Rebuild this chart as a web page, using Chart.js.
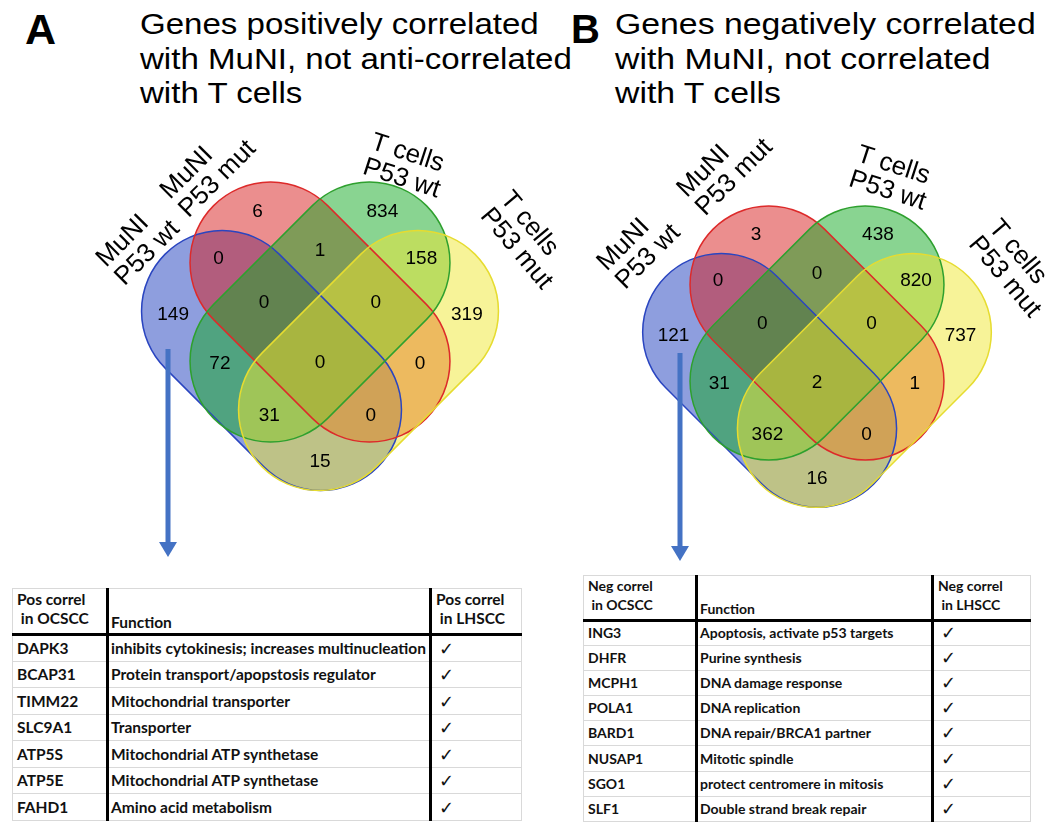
<!DOCTYPE html>
<html>
<head>
<meta charset="utf-8">
<title>MuNI / T cells Venn diagrams</title>
<script src="https://cdn.jsdelivr.net/npm/chart.js@4.4.1/dist/chart.umd.min.js"></script>
<style>
  html, body { margin: 0; padding: 0; background: #fff; }
  body { width: 1050px; height: 834px; position: relative; overflow: hidden;
         font-family: "Liberation Sans", Arial, sans-serif; color: #000; }
  .letter { position: absolute; font-weight: bold; line-height: 1; }
  .title { position: absolute; font-size: 29px; line-height: 34.5px; transform-origin: 0 0; white-space: nowrap; }
  .venn { position: absolute; top: 0; }
  table.genes { position: absolute; border-collapse: collapse; table-layout: fixed;
                font-family: Lato, "Open Sans", sans-serif; font-weight: bold; color: #111; }
  table.genes td { border: 1px solid #d9d9d9; padding: 0 0 3px 4px; vertical-align: bottom;
                   white-space: nowrap; overflow: hidden; line-height: 19px; }
  table.genes td.fn { padding-left: 2px; }
  table.genes td.sep { border-right: 3px solid #000; }
  table.genes tr.head td { border-bottom: 3px solid #000; padding-bottom: 5px; }
  table.genes tr.head td.fn { padding-bottom: 1px; }
  table.genes td.chk { font-family: "DejaVu Sans", sans-serif; font-weight: normal; font-size: 18px; padding-left: 7px; }
</style>
</head>
<body>
<div class="letter" style="left:25px; top:8px; font-size:43px;">A</div>
<div class="title" style="left:140px; top:7px; transform:scaleX(1.14);">Genes positively correlated<br>with MuNI, not anti-correlated<br>with T cells</div>
<div class="letter" style="left:571px; top:9px; font-size:40px;">B</div>
<div class="title" style="left:615px; top:7px; transform:scaleX(1.165);">Genes negatively correlated<br>with MuNI, not correlated<br>with T cells</div>

<canvas id="vennA" class="venn" width="570" height="580" style="left:0"></canvas>
<canvas id="vennB" class="venn" width="525" height="572" style="left:525px"></canvas>

<table id="tableA" class="genes" style="left:12px; top:588px; width:509px; font-size:15.5px;"></table>
<table id="tableB" class="genes" style="left:583px; top:575px; width:447px; font-size:14px;"></table>

<script>
// sets: A = MuNI P53 wt (blue), B = MuNI P53 mut (red), C = T cells P53 wt (green), D = T cells P53 mut (yellow)
const setLabels = [['MuNI', 'P53 wt'], ['MuNI', 'P53 mut'], ['T cells', 'P53 wt'], ['T cells', 'P53 mut']];
const regions = ['A', 'B', 'C', 'D', 'AB', 'BC', 'CD', 'AC', 'AD', 'BD', 'ABC', 'BCD', 'ACD', 'ABD', 'ABCD'];
const countsPos = [149, 6, 834, 319, 0, 1, 158, 72, 15, 0, 0, 0, 31, 0, 0];
const countsNeg = [121, 3, 438, 737, 0, 0, 820, 31, 16, 1, 0, 0, 362, 0, 2];

// tables
const headPos = [['Pos correl', '\u00a0in OCSCC'], ['Function'], ['Pos correl', '\u00a0in LHSCC']];
const genesPos = ['DAPK3', 'BCAP31', 'TIMM22', 'SLC9A1', 'ATP5S', 'ATP5E', 'FAHD1'];
const funcsPos = ['inhibits cytokinesis; increases multinucleation', 'Protein transport/apopstosis regulator',
                  'Mitochondrial transporter', 'Transporter', 'Mitochondrial ATP synthetase',
                  'Mitochondrial ATP synthetase', 'Amino acid metabolism'];
const lhsccPos = [true, true, true, true, true, true, true];

const headNeg = [['Neg correl', '\u00a0in OCSCC'], ['Function'], ['Neg correl', '\u00a0in LHSCC']];
const genesNeg = ['ING3', 'DHFR', 'MCPH1', 'POLA1', 'BARD1', 'NUSAP1', 'SGO1', 'SLF1'];
const funcsNeg = ['Apoptosis, activate p53 targets', 'Purine synthesis', 'DNA damage response', 'DNA replication',
                  'DNA repair/BRCA1 partner', 'Mitotic spindle', 'protect centromere in mitosis',
                  'Double strand break repair'];
const lhsccNeg = [true, true, true, true, true, true, true, true];

// venn geometry, in units of the shape half-extent (layout only)
const regionAnchors = [[-1.13, -0.02], [-0.48, 0.77], [0.48, 0.77], [1.13, -0.02],
                       [-0.78, 0.41], [0, 0.47], [0.78, 0.41], [-0.77, -0.40], [0, -1.15], [0.77, -0.40],
                       [-0.43, 0.07], [0.43, 0.07], [-0.39, -0.80], [0.39, -0.80], [0, -0.39]];
const shapes = [
  { cx: -0.373, cy: -0.373, rot: 45,  fill: 'rgba(30,62,190,0.5)',  stroke: '#2a45c0' },
  { cx: 0,      cy: 0,      rot: 45,  fill: 'rgba(215,30,30,0.5)',  stroke: '#dd2a2a' },
  { cx: 0,      cy: 0,      rot: -45, fill: 'rgba(20,170,35,0.5)',  stroke: '#2ea02e' },
  { cx: 0.373,  cy: -0.373, rot: -45, fill: 'rgba(240,232,50,0.5)', stroke: '#e6dc30' }
];
const capRadius = 0.62, halfStraight = 0.537;

function stadiumPath(ctx, px, py, rot, L, r) {
  ctx.save();
  ctx.translate(px, py);
  ctx.rotate(rot * Math.PI / 180);
  ctx.beginPath();
  ctx.moveTo(-L, -r);
  ctx.lineTo(L, -r);
  ctx.arc(L, 0, r, -Math.PI / 2, Math.PI / 2);
  ctx.lineTo(-L, r);
  ctx.arc(-L, 0, r, Math.PI / 2, Math.PI * 1.5);
  ctx.closePath();
  ctx.restore();
}

function vennPlugin(layout) {
  return {
    id: 'venn',
    beforeDatasetsDraw(chart) {
      const { ctx, scales: { x, y } } = chart;
      const unit = x.getPixelForValue(1) - x.getPixelForValue(0);
      ctx.save();
      shapes.forEach(s => {
        stadiumPath(ctx, x.getPixelForValue(s.cx), y.getPixelForValue(s.cy), s.rot, halfStraight * unit, capRadius * unit);
        ctx.fillStyle = s.fill;
        ctx.fill();
      });
      shapes.forEach(s => {
        stadiumPath(ctx, x.getPixelForValue(s.cx), y.getPixelForValue(s.cy), s.rot, halfStraight * unit, capRadius * unit);
        ctx.strokeStyle = s.stroke;
        ctx.lineWidth = 1.5;
        ctx.stroke();
      });
      ctx.restore();
    },
    afterDatasetsDraw(chart) {
      const { ctx, scales: { x, y } } = chart;
      const ds = chart.data.datasets[0];
      const meta = chart.getDatasetMeta(0);
      ctx.save();
      // region counts
      ctx.fillStyle = '#000';
      ctx.font = '19px "Liberation Sans", Arial, sans-serif';
      ctx.textAlign = 'center';
      ctx.textBaseline = 'middle';
      meta.data.forEach((pt, i) => ctx.fillText(String(ds.data[i].count), pt.x, pt.y));
      // set names, rotated
      ctx.font = '26px "Liberation Sans", Arial, sans-serif';
      ctx.textAlign = 'left';
      layout.labels.forEach((l, i) => {
        ctx.save();
        ctx.translate(x.getPixelForValue(l[0]), y.getPixelForValue(l[1]));
        ctx.rotate(l[2] * Math.PI / 180);
        setLabels[i].forEach((line, j) => ctx.fillText(line, 0, j * 26));
        ctx.restore();
      });
      // arrow down to the table
      const a = layout.arrow;
      ctx.fillStyle = '#4472c4';
      ctx.fillRect(a.x - 2.5, a.y0, 5, a.tip - 15 - a.y0 + 1);
      ctx.beginPath();
      ctx.moveTo(a.x - 9, a.tip - 15);
      ctx.lineTo(a.x + 9, a.tip - 15);
      ctx.lineTo(a.x, a.tip);
      ctx.closePath();
      ctx.fill();
      ctx.restore();
    }
  };
}

function vennChart(id, counts, layout) {
  const canvas = document.getElementById(id);
  const W = canvas.width, H = canvas.height, u = layout.unit;
  return new Chart(canvas, {
    type: 'scatter',
    data: {
      datasets: [{
        label: 'genes',
        data: regionAnchors.map((p, i) => ({ x: p[0], y: p[1], count: counts[i], region: regions[i] })),
        pointRadius: 0,
        pointHoverRadius: 0
      }]
    },
    options: {
      responsive: false,
      animation: false,
      events: [],
      layout: { padding: 0 },
      plugins: { legend: { display: false }, tooltip: { enabled: false } },
      scales: {
        x: { type: 'linear', display: false, min: -layout.cx / u, max: (W - layout.cx) / u },
        y: { type: 'linear', display: false, min: -(H - layout.cy) / u, max: layout.cy / u }
      }
    },
    plugins: [vennPlugin(layout)]
  });
}

vennChart('vennA', countsPos, {
  cx: 320, cy: 312, unit: 130,
  labels: [[-1.685, 0.377, -45], [-1.192, 0.90, -45], [0.398, 1.31, 18], [1.423, 0.90, 50]],
  arrow: { x: 168, y0: 349, tip: 557 }
});
vennChart('vennB', countsNeg, {
  cx: 292, cy: 333, unit: 127,
  labels: [[-1.695, 0.522, -45], [-1.065, 1.10, -45], [0.32, 1.41, 18], [1.388, 0.864, 50]],
  arrow: { x: 155, y0: 353, tip: 561 }
});

function buildTable(id, head, genes, funcs, checks, colW, headH, rowH) {
  const t = document.getElementById(id);
  let html = '<colgroup>' + colW.map(w => '<col style="width:' + w + 'px">').join('') + '</colgroup>';
  html += '<tr class="head" style="height:' + headH + 'px">' +
    '<td class="sep">' + head[0].join('<br>') + '</td>' +
    '<td class="sep fn">' + head[1].join('<br>') + '</td>' +
    '<td>' + head[2].join('<br>') + '</td></tr>';
  genes.forEach((g, i) => {
    html += '<tr style="height:' + rowH + 'px"><td class="sep">' + g + '</td>' +
      '<td class="sep fn">' + funcs[i] + '</td>' +
      '<td class="chk">' + (checks[i] ? '\u2713' : '') + '</td></tr>';
  });
  t.innerHTML = html;
}

buildTable('tableA', headPos, genesPos, funcsPos, lhsccPos, [95, 323, 91], 46, 26.5);
buildTable('tableB', headNeg, genesNeg, funcsNeg, lhsccNeg, [113, 236, 98], 44, 25.1);
</script>
</body>
</html>
